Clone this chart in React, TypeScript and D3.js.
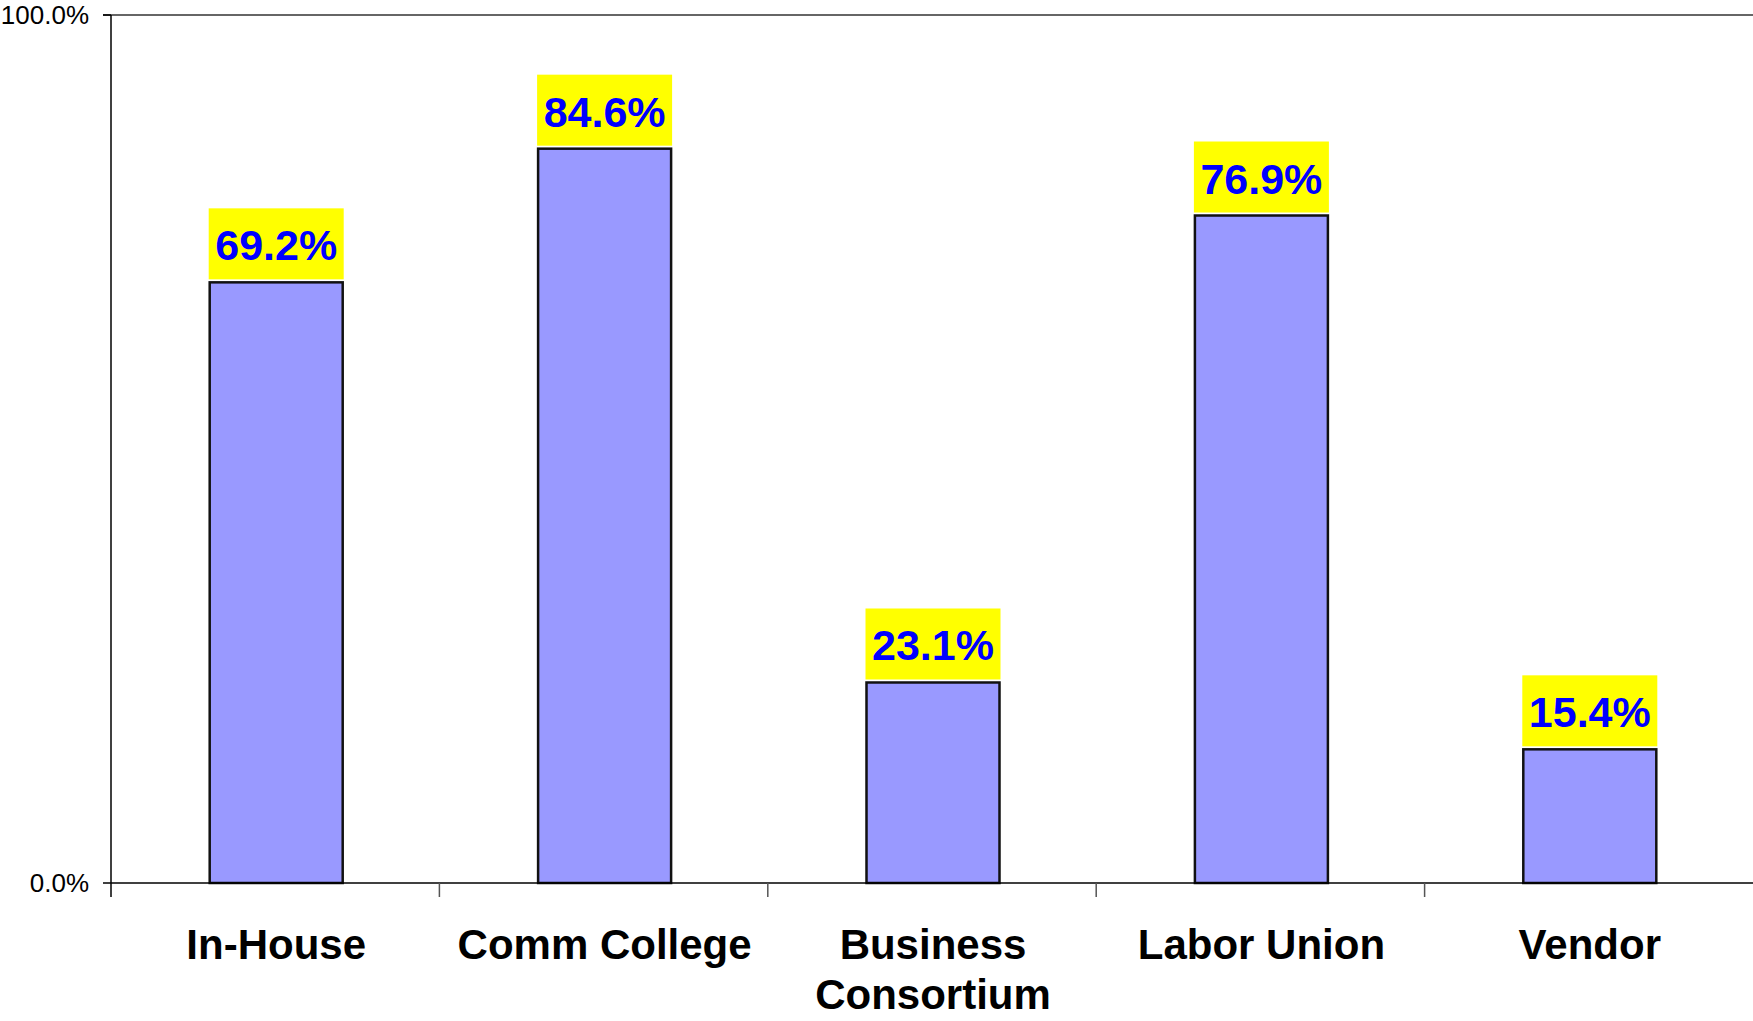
import React from "react";
import * as d3 from "d3";

const categories: string[][] = [["In-House"], ["Comm College"], ["Business", "Consortium"], ["Labor Union"], ["Vendor"]];
const values: number[] = [0.692, 0.846, 0.231, 0.769, 0.154];
const yTicks: number[] = [0, 1];

const W = 1753;
const H = 1021;
const left = 111;
const right = 1753;
const top = 15;
const bottom = 883;
const font = "Arial, 'Liberation Sans', sans-serif";

export default function App() {
  const x = d3.scaleBand<number>().domain(d3.range(categories.length)).range([left, right]).padding(0);
  const y = d3.scaleLinear().domain([0, 1]).range([bottom, top]);
  const barW = x.bandwidth() * 0.405;
  const fmt = d3.format(".1%");
  const tickXs = d3.range(categories.length).map((i) => x(i) as number);

  return (
    <svg width={W} height={H} style={{ position: "absolute", left: 0, top: 0, background: "#fff" }}>
      <rect x={0} y={0} width={W} height={H} fill="#fff" />
      <line x1={left - 8} x2={right} y1={y(1)} y2={y(1)} stroke="#333" strokeWidth={1.5} />
      {values.map((v, i) => {
        const cx = (x(i) as number) + x.bandwidth() / 2 + 1;
        const bx = cx - barW / 2;
        const by = y(v);
        const boxTop = by - 3 - 71;
        return (
          <g key={i}>
            <rect x={bx} y={by} width={barW} height={bottom - by} fill="#9999FF" stroke="#111" strokeWidth={2.5} />
            <rect x={bx - 1} y={boxTop} width={barW + 2} height={71} fill="#FFFF00" />
            <text x={cx} y={boxTop + 52} textAnchor="middle" fontFamily={font} fontWeight="bold" fontSize={43} fill="#0000FF">
              {fmt(v)}
            </text>
          </g>
        );
      })}
      <line x1={left} x2={left} y1={top} y2={bottom + 14} stroke="#000" strokeWidth={1.5} />
      {yTicks.map((t) => (
        <g key={t}>
          <line x1={left - 8} x2={left} y1={y(t)} y2={y(t)} stroke="#000" strokeWidth={1.5} />
          <text x={89} y={y(t) + 9} textAnchor="end" fontFamily={font} fontSize={26} fill="#000">
            {fmt(t)}
          </text>
        </g>
      ))}
      <line x1={left} x2={right} y1={bottom} y2={bottom} stroke="#000" strokeWidth={1.5} />
      {tickXs.slice(1).map((tx, i) => (
        <line key={i} x1={tx} x2={tx} y1={bottom} y2={bottom + 14} stroke="#555" strokeWidth={1.5} />
      ))}
      {categories.map((lines, i) => {
        const cx = (x(i) as number) + x.bandwidth() / 2 + 1;
        return (
          <text key={i} textAnchor="middle" fontFamily={font} fontWeight="bold" fontSize={42} fill="#000">
            {lines.map((l, j) => (
              <tspan key={j} x={cx} y={959 + j * 50}>
                {l}
              </tspan>
            ))}
          </text>
        );
      })}
    </svg>
  );
}
